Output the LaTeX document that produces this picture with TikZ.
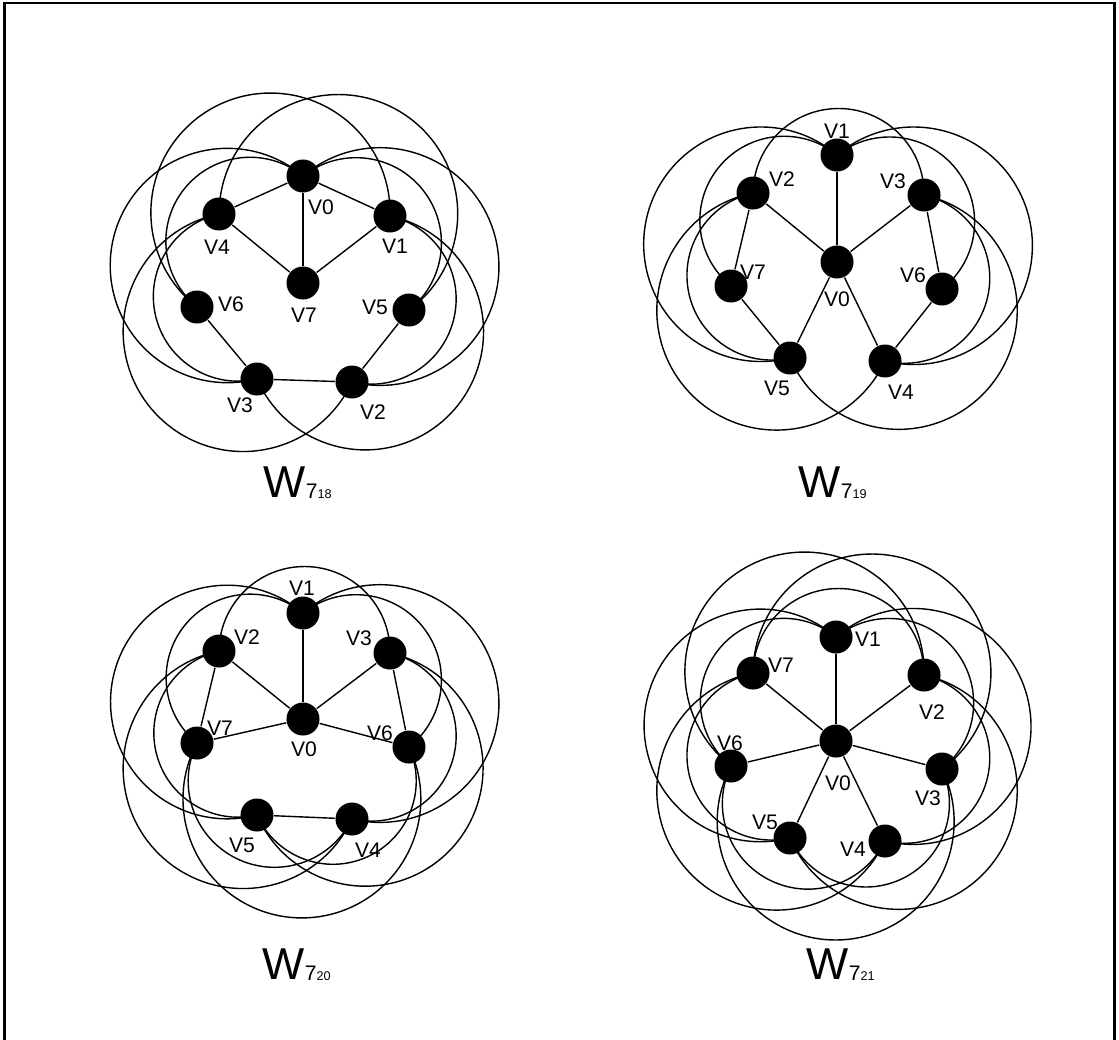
\documentclass[tikz,border=0pt]{standalone}
\usepackage{fontspec}
\setmainfont{Liberation Sans}
\usetikzlibrary{calc}

\tikzset{
  vtx/.style={circle, fill=black, inner sep=0pt, minimum size=0.33cm},
  lbl/.style={inner sep=0pt, font=\fontsize{6}{7}\selectfont},
  ttl/.style={inner sep=0pt, anchor=base west, font=\fontsize{12.7}{14}\selectfont}
}
% outer arc from #1 counter-clockwise to #2, centre moved #3 out from the chord
\newcommand{\rarc}[3]{%
  \draw let \p1=($(#1)!.5!(#2)$), \p2=($(\p1)!#3!270:(#2)$),
            \p3=($(#1)-(\p2)$), \p4=($(#2)-(\p2)$),
            \n1={atan2(\y3,\x3)}, \n2={atan2(\y4,\x4)}, \n3={veclen(\x3,\y3)}
        in (#1.center) arc[start angle=\n1, end angle={\n2+360*(\n2<\n1)}, radius=\n3];}
\newcommand{\wsub}[1]{\raisebox{-0.5pt}{\fontsize{6}{7}\selectfont 7\fontsize{3.6}{4}\selectfont #1}}

\begin{document}
\begin{tikzpicture}[x=0.01cm, y=-0.01cm]
    \useasboundingbox (0,0) rectangle (1119,1039);
    \draw[line width=0.6pt] (4.5,3) rectangle (1114.5,1045);

    % W_7_18
    \node[vtx] (a0) at (303,176) {};
    \node[vtx] (a1) at (390,216) {};
    \node[vtx] (a2) at (352,382) {};
    \node[vtx] (a3) at (257,379) {};
    \node[vtx] (a4) at (219,214) {};
    \node[vtx] (a5) at (409,310) {};
    \node[vtx] (a6) at (197,307) {};
    \node[vtx] (a7) at (303,283) {};
    \draw (a7) -- (a0);
    \draw (a7) -- (a4);
    \draw (a7) -- (a1);
    \draw (a0) -- (a4);
    \draw (a0) -- (a1);
    \draw (a6) -- (a3);
    \draw (a3) -- (a2);
    \draw (a2) -- (a5);
    \rarc{a0}{a6}{0pt}
    \rarc{a5}{a0}{0pt}
    \rarc{a4}{a3}{0pt}
    \rarc{a2}{a1}{0pt}
    \rarc{a0}{a3}{0.54cm}
    \rarc{a2}{a0}{0.54cm}
    \rarc{a1}{a6}{0.54cm}
    \rarc{a5}{a4}{0.54cm}
    \rarc{a3}{a1}{0.54cm}
    \rarc{a4}{a2}{0.54cm}
    \node[lbl] (la0) at (321,207) {V0};
    \node[lbl] (la4) at (217,247) {V4};
    \node[lbl] (la1) at (395,246) {V1};
    \node[lbl] (la6) at (231,304) {V6};
    \node[lbl] (la7) at (304,315) {V7};
    \node[lbl] (la5) at (375,307) {V5};
    \node[lbl] (la3) at (240,405) {V3};
    \node[lbl] (la2) at (373,412) {V2};
    \node[ttl] (t18) at (263,497) {W\wsub{18}};

    % W_7_19
    \node[vtx] (b0) at (837,262) {};
    \node[vtx] (b1) at (837,155) {};
    \node[vtx] (b2) at (753,193) {};
    \node[vtx] (b3) at (924,195) {};
    \node[vtx] (b4) at (885,361) {};
    \node[vtx] (b5) at (790,358) {};
    \node[vtx] (b6) at (942,289) {};
    \node[vtx] (b7) at (731,286) {};
    \draw (b0) -- (b1);
    \draw (b0) -- (b2);
    \draw (b0) -- (b3);
    \draw (b0) -- (b5);
    \draw (b0) -- (b4);
    \draw (b2) -- (b7);
    \draw (b3) -- (b6);
    \draw (b7) -- (b5);
    \draw (b6) -- (b4);
    \rarc{b1}{b7}{0pt}
    \rarc{b6}{b1}{0pt}
    \rarc{b1}{b5}{0.54cm}
    \rarc{b4}{b1}{0.54cm}
    \rarc{b3}{b2}{0pt}
    \rarc{b2}{b5}{0pt}
    \rarc{b2}{b4}{0.54cm}
    \rarc{b4}{b3}{0pt}
    \rarc{b5}{b3}{0.54cm}
    \node[lbl] (lb1) at (837,131) {V1};
    \node[lbl] (lb2) at (782,179) {V2};
    \node[lbl] (lb3) at (893,181) {V3};
    \node[lbl] (lb7) at (753,272) {V7};
    \node[lbl] (lb6) at (913,275) {V6};
    \node[lbl] (lb0) at (837,299) {V0};
    \node[lbl] (lb5) at (777,388) {V5};
    \node[lbl] (lb4) at (901,392) {V4};
    \node[ttl] (t19) at (798,497) {W\wsub{19}};

    % W_7_20
    \node[vtx] (c0) at (303,719) {};
    \node[vtx] (c1) at (303,613) {};
    \node[vtx] (c2) at (219,651) {};
    \node[vtx] (c3) at (390,653) {};
    \node[vtx] (c4) at (352,819) {};
    \node[vtx] (c5) at (257,815) {};
    \node[vtx] (c6) at (409,747) {};
    \node[vtx] (c7) at (197,743) {};
    \draw (c0) -- (c1);
    \draw (c0) -- (c2);
    \draw (c0) -- (c3);
    \draw (c0) -- (c7);
    \draw (c0) -- (c6);
    \draw (c2) -- (c7);
    \draw (c3) -- (c6);
    \draw (c5) -- (c4);
    \rarc{c1}{c7}{0pt}
    \rarc{c6}{c1}{0pt}
    \rarc{c1}{c5}{0.54cm}
    \rarc{c4}{c1}{0.54cm}
    \rarc{c3}{c2}{0pt}
    \rarc{c2}{c5}{0pt}
    \rarc{c2}{c4}{0.54cm}
    \rarc{c4}{c3}{0pt}
    \rarc{c5}{c3}{0.54cm}
    \rarc{c7}{c4}{0pt}
    \rarc{c7}{c6}{0.54cm}
    \rarc{c5}{c6}{0pt}
    \node[lbl] (lc1) at (302,588) {V1};
    \node[lbl] (lc2) at (247,637) {V2};
    \node[lbl] (lc3) at (359,638) {V3};
    \node[lbl] (lc7) at (220,728) {V7};
    \node[lbl] (lc6) at (380,733) {V6};
    \node[lbl] (lc0) at (304,749) {V0};
    \node[lbl] (lc5) at (242,845) {V5};
    \node[lbl] (lc4) at (368,850) {V4};
    \node[ttl] (t20) at (262,979) {W\wsub{20}};

    % W_7_21
    \node[vtx] (d0) at (836,741) {};
    \node[vtx] (d1) at (836,637) {};
    \node[vtx] (d2) at (924,675) {};
    \node[vtx] (d3) at (942,769) {};
    \node[vtx] (d4) at (885,841) {};
    \node[vtx] (d5) at (790,838) {};
    \node[vtx] (d6) at (731,766) {};
    \node[vtx] (d7) at (753,673) {};
    \draw (d0) -- (d1);
    \draw (d0) -- (d2);
    \draw (d0) -- (d3);
    \draw (d0) -- (d4);
    \draw (d0) -- (d5);
    \draw (d0) -- (d6);
    \draw (d0) -- (d7);
    \rarc{d3}{d1}{0pt}
    \rarc{d4}{d2}{0pt}
    \rarc{d5}{d3}{0pt}
    \rarc{d6}{d4}{0pt}
    \rarc{d7}{d5}{0pt}
    \rarc{d1}{d6}{0pt}
    \rarc{d2}{d7}{0pt}
    \rarc{d4}{d1}{0.54cm}
    \rarc{d5}{d2}{0.54cm}
    \rarc{d6}{d3}{0.54cm}
    \rarc{d7}{d4}{0.54cm}
    \rarc{d1}{d5}{0.54cm}
    \rarc{d2}{d6}{0.54cm}
    \rarc{d3}{d7}{0.54cm}
    \node[lbl] (ld1) at (868,639) {V1};
    \node[lbl] (ld7) at (781,665) {V7};
    \node[lbl] (ld2) at (932,712) {V2};
    \node[lbl] (ld6) at (730,743) {V6};
    \node[lbl] (ld0) at (838,783) {V0};
    \node[lbl] (ld3) at (928,798) {V3};
    \node[lbl] (ld5) at (765,822) {V5};
    \node[lbl] (ld4) at (853,849) {V4};
    \node[ttl] (t21) at (806,979) {W\wsub{21}};
\end{tikzpicture}
\end{document}
